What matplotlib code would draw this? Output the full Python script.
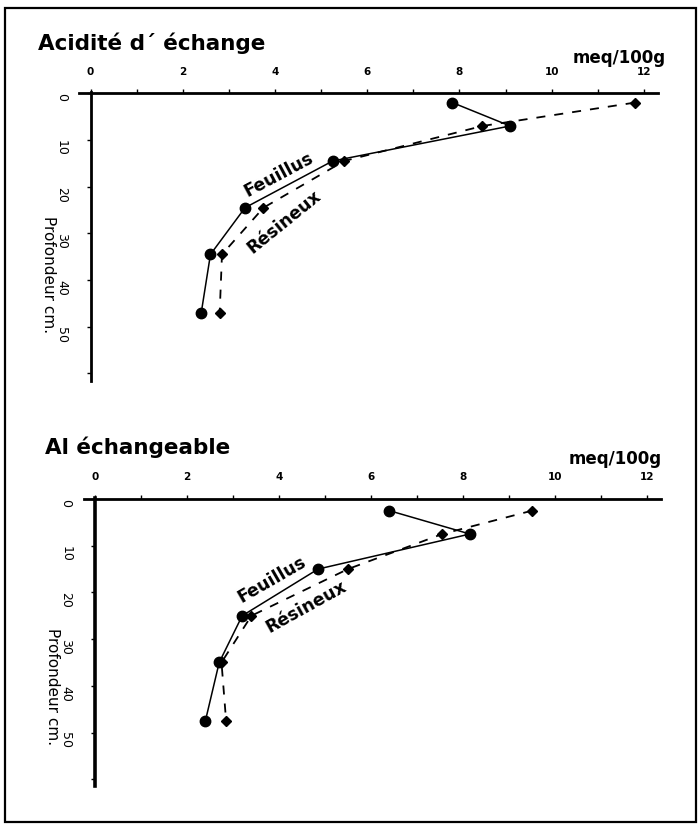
"""
Profils d'acidité d'échange et d'Al échangeable (Feuillus / Résineux)
Sortie : out.png (699x824)
"""

import matplotlib
matplotlib.use("Agg")
import matplotlib.pyplot as plt
from matplotlib.patches import Rectangle
from matplotlib.ticker import MultipleLocator

# ── Données ───────────────────────────────────────────────────────────────────
depth_acid = [2, 7, 14.5, 24.5, 34.5, 47]
acid_feuillus = [7.85, 9.1, 5.25, 3.35, 2.6, 2.4]
acid_resineux = [11.8, 8.5, 5.5, 3.75, 2.85, 2.8]

depth_al = [2.5, 7.5, 15, 25, 35, 47.5]
al_feuillus = [6.4, 8.15, 4.85, 3.2, 2.7, 2.4]
al_resineux = [9.5, 7.55, 5.5, 3.4, 2.75, 2.85]

x_ticks = [0, 2, 4, 6, 8, 10, 12]
y_ticks = [0, 10, 20, 30, 40, 50]

W, H = 699, 824
FONT = "DejaVu Sans"


def px_axes(fig, x0, ppu_x, y0, ppu_y, xlim, ylim):
    """axes placé en pixels : x0/y0 = position du zéro, ppu = px par unité"""
    left = x0 + ppu_x * xlim[0]
    right = x0 + ppu_x * xlim[1]
    top = y0 + ppu_y * ylim[1]
    bottom = y0 + ppu_y * ylim[0]
    ax = fig.add_axes([left / W, 1 - bottom / H, (right - left) / W, (bottom - top) / H])
    ax.set_xlim(*xlim)
    ax.set_ylim(*ylim)
    return ax


def panel(ax, depth, feu, res, y_end, lw_y):
    # axes en croix à l'origine
    for s in ("right", "bottom"):
        ax.spines[s].set_visible(False)
    ax.spines["top"].set_position(("data", 0))
    ax.spines["top"].set_bounds(-0.25, 12.3)
    ax.spines["top"].set_linewidth(2.0)
    ax.spines["left"].set_position(("data", 0))
    ax.spines["left"].set_bounds(-0.3, y_end)
    ax.spines["left"].set_linewidth(lw_y)

    ax.xaxis.tick_top()
    ax.set_xticks(x_ticks)
    ax.xaxis.set_minor_locator(MultipleLocator(1))
    ax.set_xticklabels([str(v) for v in x_ticks], fontsize=7.5, fontweight="bold", family=FONT)
    ax.tick_params(axis="x", which="both", direction="out", length=3, width=1, pad=9)

    ax.set_yticks(y_ticks + [60])
    ax.set_yticklabels([str(v) for v in y_ticks] + [""], fontsize=9, family=FONT)
    ax.tick_params(axis="y", direction="out", length=3, width=1, pad=18)
    for lab in ax.get_yticklabels():
        lab.set_rotation(-90)
        lab.set_va("top")
        lab.set_ha("center")

    ax.plot(feu, depth, color="black", lw=1.1, marker="o", ms=7.5, zorder=3)
    ax.plot(res, depth, color="black", lw=1.3, ls=(0, (5, 5)), marker="D", ms=5.5,
            zorder=3)
    ax.set_facecolor("none")


fig = plt.figure(figsize=(W / 100, H / 100), dpi=100)

# ── Acidité d'échange ─────────────────────────────────────────────────────────
ax1 = px_axes(fig, 90.6, 46.1, 93.3, 4.67, (-0.5, 12.5), (64, -3))
panel(ax1, depth_acid, acid_feuillus, acid_resineux, 61.5, 2.0)
fig.text(38 / W, 1 - 43 / H, "Acidité d´ échange", fontsize=15.5, fontweight="bold",
         family=FONT, ha="left", va="center")
fig.text(573 / W, 1 - 58 / H, "meq/100g", fontsize=12, fontweight="bold",
         family=FONT, ha="left", va="center")
fig.text(48 / W, 1 - 275 / H, "Profondeur cm.", fontsize=11, family=FONT,
         rotation=-90, ha="center", va="center")
ax1.text(4.08, 17.5, "Feuillus", fontsize=12.5, fontweight="bold", family=FONT,
         rotation=28, ha="center", va="center")
ax1.text(4.2, 27.5, "Résineux", fontsize=12.5, fontweight="bold", family=FONT,
         rotation=39, ha="center", va="center")

# ── Al échangeable ────────────────────────────────────────────────────────────
ax2 = px_axes(fig, 95.0, 46.0, 499.0, 4.67, (-0.5, 12.5), (64, -3))
panel(ax2, depth_al, al_feuillus, al_resineux, 61.5, 2.6)
fig.text(45 / W, 1 - 447 / H, "Al échangeable", fontsize=15.5, fontweight="bold",
         family=FONT, ha="left", va="center")
fig.text(569 / W, 1 - 459 / H, "meq/100g", fontsize=12, fontweight="bold",
         family=FONT, ha="left", va="center")
fig.text(52 / W, 1 - 687 / H, "Profondeur cm.", fontsize=11, family=FONT,
         rotation=-90, ha="center", va="center")
ax2.text(3.85, 17.3, "Feuillus", fontsize=12.5, fontweight="bold", family=FONT,
         rotation=30, ha="center", va="center")
ax2.text(4.6, 23.0, "Résineux", fontsize=12.5, fontweight="bold", family=FONT,
         rotation=29, ha="center", va="center")

# cadre
fig.patches.append(Rectangle((5 / W, 2 / H), 691 / W, 814 / H, transform=fig.transFigure,
                             fill=False, lw=1.6, color="black"))

fig.savefig("out.png", dpi=100)
